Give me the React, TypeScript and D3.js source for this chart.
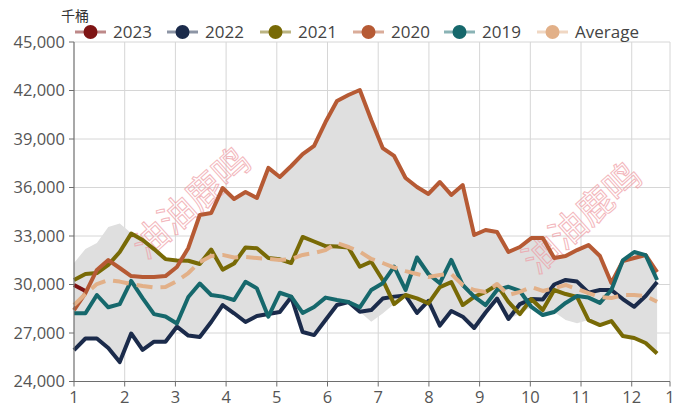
import React, { useEffect, useRef } from 'react';
import * as d3 from 'd3';

// weekly stocks, 52 weeks per year (thousand barrels)
const v2023 = [29970, 29600];
const v2022 = [25940, 26660, 26660, 26070, 25200, 26970, 25950, 26460, 26460, 27390, 26840, 26750, 27680, 28730, 28220, 27680, 28050, 28170, 28300, 29230, 27060, 26870, 27800, 28730, 28920, 28320, 28420, 29130, 29250, 29320, 28240, 28980, 27460, 28360, 28010, 27310, 28270, 29130, 27870, 28790, 29100, 29070, 30000, 30280, 30180, 29500, 29660, 29660, 29100, 28620, 29290, 30150];
const v2021 = [30280, 30650, 30710, 31210, 32010, 33150, 32750, 32190, 31570, 31480, 31470, 31270, 32160, 30920, 31300, 32290, 32240, 31640, 31560, 31330, 32940, 32660, 32380, 32350, 32290, 31100, 31410, 30280, 28790, 29350, 29140, 28830, 29840, 30150, 28730, 29230, 29540, 29970, 28920, 28170, 29100, 28420, 29660, 29410, 29230, 27800, 27490, 27740, 26810, 26690, 26380, 25730];
const v2020 = [28420, 29470, 30900, 31510, 31020, 30520, 30460, 30460, 30520, 31080, 32260, 34300, 34420, 35970, 35290, 35720, 35350, 37210, 36650, 37330, 38070, 38570, 40050, 41350, 41720, 42030, 40170, 38440, 37950, 36590, 36030, 35600, 36340, 35540, 36150, 33060, 33370, 33250, 32010, 32320, 32870, 32870, 31640, 31760, 32130, 32440, 31760, 30090, 31450, 31640, 31820, 30770];
const v2019 = [28220, 28220, 29350, 28590, 28790, 30220, 29160, 28170, 28020, 27590, 29230, 30060, 29350, 29250, 29040, 30170, 29760, 28010, 29490, 29250, 28240, 28610, 29190, 29040, 28920, 28590, 29660, 30080, 31110, 29660, 31670, 30650, 30080, 31520, 29970, 29250, 28730, 29660, 29860, 29600, 28610, 28110, 28300, 28860, 29290, 29190, 28860, 29660, 31490, 32010, 31820, 30280];
const vAverage = [28730, 29410, 30030, 30280, 30180, 30030, 29910, 29810, 29840, 30220, 30710, 31390, 31760, 31830, 31670, 31700, 31640, 31580, 31520, 31580, 31830, 31950, 32130, 32570, 32320, 32030, 31580, 31330, 31050, 30830, 30650, 30460, 30590, 30650, 29970, 29660, 29540, 30030, 29350, 29540, 29840, 29600, 29780, 29970, 29720, 29470, 29230, 29160, 29350, 29350, 29290, 28930];
// grey range band
const bandHigh = [31330, 32200, 32570, 33560, 33780, 33180, 32750, 32190, 31570, 31480, 32260, 34300, 34420, 35970, 35290, 35720, 35350, 37210, 36650, 37330, 38070, 38570, 40050, 41350, 41720, 42030, 40170, 38440, 37950, 36590, 36030, 35600, 36340, 35540, 36150, 33060, 33370, 33250, 32010, 32320, 32870, 32870, 31640, 31760, 32130, 32440, 31760, 30090, 31490, 32010, 31820, 30770];
const bandLow = [25940, 26660, 26660, 26070, 25200, 26970, 25950, 26460, 26460, 27390, 26840, 26750, 27680, 28730, 28220, 27680, 28050, 28010, 28300, 29230, 27060, 26870, 27800, 28730, 28920, 28320, 27700, 28200, 28790, 29320, 28240, 28830, 27460, 28360, 28010, 27310, 28270, 29130, 27870, 28170, 28610, 28110, 28300, 27800, 27600, 27800, 27490, 27740, 26810, 26690, 26380, 25730];

const seriesNames = ['2023', '2022', '2021', '2020', '2019', 'Average'];
const seriesValues = [v2023, v2022, v2021, v2020, v2019, vAverage];
const seriesColors = ['#7e1414', '#1b2b4b', '#786a06', '#b65a34', '#16686c', '#e2b088'];

const monthTicks = [1, 2, 3, 4, 5, 6, 7, 8, 9, 10, 11, 12, 12.755];
const monthLabels = ['1', '2', '3', '4', '5', '6', '7', '8', '9', '10', '11', '12', '1'];
const yTicks = [24000, 27000, 30000, 33000, 36000, 39000, 42000, 45000];

const W = 673;
const H = 407;
const weekStep = 0.2255; // months per week on the x axis
const font = '"Open Sans", "Noto Sans CJK SC", sans-serif';

export default function App() {
  const ref = useRef<SVGSVGElement>(null);

  useEffect(() => {
    const svg = d3.select(ref.current);
    svg.selectAll('*').remove();

    const x = d3.scaleLinear().domain([1, 12.755]).range([74, 670]);
    const y = d3.scaleLinear().domain([24000, 45000]).range([381.5, 42]);
    const wx = (_: number, i: number) => x(1 + i * weekStep);

    // grid
    svg.append('g').selectAll('line').data(monthTicks.slice(1)).join('line')
      .attr('x1', d => x(d)).attr('x2', d => x(d)).attr('y1', 42).attr('y2', 381.5)
      .attr('stroke', '#d6d6d6').attr('stroke-width', 1);
    svg.append('g').selectAll('line').data(yTicks.slice(1)).join('line')
      .attr('x1', 74).attr('x2', 670).attr('y1', d => y(d)).attr('y2', d => y(d))
      .attr('stroke', '#d6d6d6').attr('stroke-width', 1);

    // band
    const area = d3.area<number>().x(wx).y0((_, i) => y(bandLow[i])).y1(d => y(d));
    svg.append('path').attr('d', area(bandHigh)).attr('fill', '#dfdfdf');

    // watermark
    [[193, 205], [584, 220]].forEach(([cx, cy]) => {
      svg.append('text')
        .attr('transform', `translate(${cx},${cy}) rotate(-42)`)
        .attr('text-anchor', 'middle').attr('dominant-baseline', 'middle')
        .attr('font-family', '"Noto Sans CJK SC", sans-serif').attr('font-size', 36)
        .attr('fill', 'none').attr('stroke', '#ef9ea6').attr('stroke-width', 1)
        .attr('opacity', 0.75)
        .text('油油鹿鸣');
    });

    // lines
    const line = d3.line<number>().x(wx).y(d => y(d));
    seriesValues.forEach((vals, k) => {
      svg.append('path').attr('d', line(vals))
        .attr('fill', 'none').attr('stroke', seriesColors[k])
        .attr('stroke-width', 4).attr('stroke-linejoin', 'round')
        .attr('stroke-dasharray', seriesNames[k] === 'Average' ? '16 8' : null);
    });

    // y axis
    svg.append('line').attr('x1', 74).attr('x2', 74).attr('y1', 42).attr('y2', 381.5)
      .attr('stroke', '#6e6e6e').attr('stroke-width', 1.2);
    svg.append('g').selectAll('line').data(yTicks).join('line')
      .attr('x1', 69).attr('x2', 74).attr('y1', d => y(d)).attr('y2', d => y(d))
      .attr('stroke', '#6e6e6e');
    svg.append('g').selectAll('text').data(yTicks).join('text')
      .attr('x', 65).attr('y', d => y(d)).attr('dy', '0.35em')
      .attr('text-anchor', 'end').attr('font-family', font).attr('font-size', 16.5)
      .attr('fill', '#555').text(d => d3.format(',')(d));

    // x axis
    svg.append('line').attr('x1', 74).attr('x2', 670).attr('y1', 381.5).attr('y2', 381.5)
      .attr('stroke', '#6e6e6e').attr('stroke-width', 1.2);
    svg.append('g').selectAll('line').data(monthTicks).join('line')
      .attr('x1', d => x(d)).attr('x2', d => x(d)).attr('y1', 381.5).attr('y2', 386.5)
      .attr('stroke', '#6e6e6e');
    svg.append('g').selectAll('text').data(monthTicks).join('text')
      .attr('x', d => x(d)).attr('y', 403)
      .attr('text-anchor', 'middle').attr('font-family', font).attr('font-size', 16.5)
      .attr('fill', '#555').text((_, i) => monthLabels[i]);

    // unit
    svg.append('text').attr('x', 75).attr('y', 21).attr('text-anchor', 'middle')
      .attr('font-family', '"Noto Sans CJK SC", sans-serif').attr('font-size', 14)
      .attr('fill', '#333').text('千桶');

    // legend
    const legendX = [75, 167, 260, 353, 444, 537];
    const lg = svg.append('g');
    seriesNames.forEach((name, k) => {
      const lx = legendX[k];
      lg.append('line').attr('x1', lx).attr('x2', lx + 31).attr('y1', 32).attr('y2', 32)
        .attr('stroke', seriesColors[k]).attr('stroke-width', 3).attr('stroke-opacity', 0.5);
      lg.append('circle').attr('cx', lx + 15.5).attr('cy', 32).attr('r', 7)
        .attr('fill', seriesColors[k]);
      lg.append('text').attr('x', lx + 38).attr('y', 32).attr('dy', '0.35em')
        .attr('font-family', font).attr('font-size', 17).attr('fill', '#444').text(name);
    });
  }, []);

  return (
    <svg ref={ref} width={W} height={H}
      style={{ position: 'absolute', left: 0, top: 0, background: '#fff' }} />
  );
}
